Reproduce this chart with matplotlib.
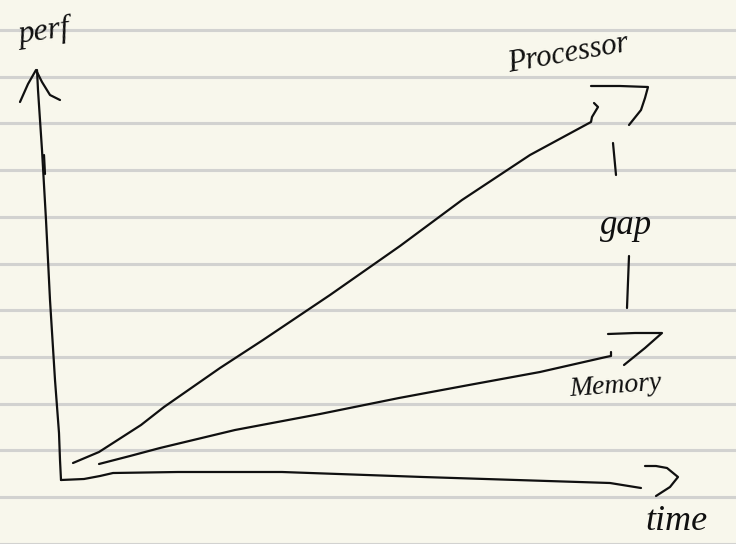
#!/usr/bin/env python3
# coding: utf-8

import numpy as np
import matplotlib
matplotlib.use('Agg')
import matplotlib.pyplot as plt

# sketch strokes in pixel units (x right, y down)
perf_axis_x = [61, 60, 59, 55, 50, 46, 42, 38, 37]
perf_axis_y = [480, 460, 433, 380, 300, 220, 150, 90, 70]
perf_head_x = [20, 28, 36, 42, 50, 60]
perf_head_y = [102, 84, 70, 82, 95, 100]
perf_tick_x = [44, 45]
perf_tick_y = [155, 174]

time_axis_x = [61, 84, 100, 113, 178, 282, 423, 610, 641]
time_axis_y = [480, 479, 476, 473, 472, 472, 477, 483, 488]
time_head_x = [645, 656, 667, 678, 670, 656]
time_head_y = [466, 466, 468, 477, 487, 496]

processor_x = [73, 99, 141, 164, 220, 263, 330, 400, 462, 530, 591, 592, 598, 594]
processor_y = [463, 452, 425, 407, 368, 340, 295, 246, 200, 155, 122, 117, 107, 103]
processor_head_x = [591, 620, 648, 645, 641, 629]
processor_head_y = [86, 86, 87, 98, 110, 125]

memory_x = [99, 130, 160, 235, 320, 399, 469, 540, 606, 611, 611]
memory_y = [464, 456, 448, 430, 414, 398, 385, 372, 357, 356, 352]
memory_head_x = [608, 635, 662, 645, 624]
memory_head_y = [334, 333, 333, 348, 365]

gap_upper_x = [613, 616]
gap_upper_y = [143, 175]
gap_lower_x = [629, 627]
gap_lower_y = [256, 308]

labels = ['perf', 'Processor', 'gap', 'Memory', 'time']
label_x = [44, 568, 626, 616, 676]
label_y = [32, 54, 226, 386, 522]
label_size = [23, 22, 25, 20, 26]
label_rot = [8, 10, 0, 4, 0]

W, H = 736, 544
paper = '#f8f7ec'
rule = '#d2d2d0'
ink = '#101010'

fig = plt.figure(figsize=(W / 100, H / 100), dpi=100, facecolor=paper)
ax = fig.add_axes([0, 0, 1, 1])
ax.set_facecolor(paper)
ax.set_xlim(0, W)
ax.set_ylim(H, 0)
ax.axis('off')

# ruled paper
for yy in np.arange(30, H, 46.7):
    ax.axhline(yy, color=rule, lw=2.2, zorder=0)

strokes = [
    (perf_axis_x, perf_axis_y), (perf_head_x, perf_head_y), (perf_tick_x, perf_tick_y),
    (time_axis_x, time_axis_y), (time_head_x, time_head_y),
    (processor_x, processor_y), (processor_head_x, processor_head_y),
    (memory_x, memory_y), (memory_head_x, memory_head_y),
    (gap_upper_x, gap_upper_y), (gap_lower_x, gap_lower_y),
]
for xs, ys in strokes:
    ax.plot(xs, ys, color=ink, lw=1.6, solid_capstyle='round',
            solid_joinstyle='round', zorder=2)

for txt, x, y, s, r in zip(labels, label_x, label_y, label_size, label_rot):
    ax.text(x, y, txt, fontsize=s, rotation=r, ha='center', va='center',
            color=ink, family='Liberation Serif', style='italic', zorder=3)

fig.savefig('out.png', dpi=100, facecolor=paper)
